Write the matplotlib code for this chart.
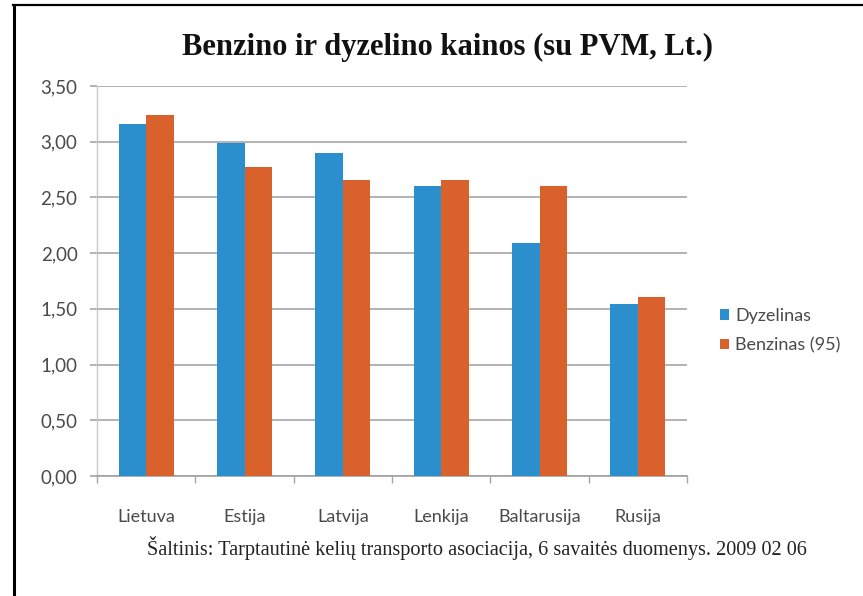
import numpy as np
import matplotlib
matplotlib.use("Agg")
import matplotlib.pyplot as plt
from matplotlib.lines import Line2D

# Kuro kainos pagal šalis (Lt su PVM)
salys = ["Lietuva", "Estija", "Latvija", "Lenkija", "Baltarusija", "Rusija"]
dyzelinas = [3.16, 2.99, 2.90, 2.60, 2.09, 1.54]
benzinas = [3.24, 2.77, 2.66, 2.66, 2.60, 1.61]
serijos = ["Dyzelinas", "Benzinas (95)"]
y_ticks = [0.0, 0.5, 1.0, 1.5, 2.0, 2.5, 3.0, 3.5]

pavadinimas = "Benzino ir dyzelino kainos (su PVM, Lt.)"
saltinis = "Šaltinis: Tarptautinė kelių transporto asociacija, 6 savaitės duomenys. 2009 02 06"

mėlyna = "#2b8fce"
oranžinė = "#d8612c"
pilka = "#a6a6a6"
teksto_spalva = "#4a4a4a"

W, H = 863, 596
fig = plt.figure(figsize=(W / 100, H / 100), dpi=100)
fig.patch.set_facecolor("white")

ax = fig.add_axes([97 / W, 1 - 476 / H, (687 - 97) / W, (476 - 86) / H])

x = np.arange(len(salys))
plotis = 0.28
ax.bar(x - plotis / 2, dyzelinas, plotis, color=mėlyna, label=serijos[0], zorder=3)
ax.bar(x + plotis / 2, benzinas, plotis, color=oranžinė, label=serijos[1], zorder=3)

ax.set_xlim(-0.5, len(salys) - 0.5)
ax.set_ylim(0, 3.5)
ax.set_yticks(y_ticks)
ax.set_yticklabels([f"{v:.2f}".replace(".", ",") for v in y_ticks])
ax.set_xticks(x)
ax.set_xticklabels(salys)
ax.set_xticks(np.arange(len(salys) + 1) - 0.5, minor=True)

ax.grid(axis="y", color=pilka, linewidth=1.2, zorder=0)
for s in ["top", "right"]:
    ax.spines[s].set_visible(False)
ax.spines["left"].set_color("#c8c8c8")
ax.spines["bottom"].set_color("#a0a0a0")
ax.spines["left"].set_linewidth(1.0)
ax.spines["bottom"].set_linewidth(1.2)

šriftas = "Lato"
ax.tick_params(axis="y", length=5, color=pilka, width=1.2, pad=9,
               labelsize=13.5, labelcolor=teksto_spalva)
ax.tick_params(axis="x", which="major", length=0, pad=24,
               labelsize=13, labelcolor=teksto_spalva)
ax.tick_params(axis="x", which="minor", length=5, color=pilka, width=1.0)
for lbl in ax.get_xticklabels() + ax.get_yticklabels():
    lbl.set_fontfamily(šriftas)

leg = ax.legend(loc="upper left", bbox_to_anchor=(720 / W, 1 - 308 / H),
                bbox_transform=fig.transFigure, frameon=False,
                prop={"family": šriftas, "size": 13}, handlelength=0.5,
                handleheight=0.5, handletextpad=0.35, labelspacing=0.75,
                borderpad=0, borderaxespad=0)
for t in leg.get_texts():
    t.set_color(teksto_spalva)

fig.text(448 / W, 1 - 47 / H, pavadinimas, ha="center", va="center",
         family="Liberation Serif", weight="bold", size=22, color="#111111")
fig.text(477 / W, 1 - 548 / H, saltinis, ha="center", va="center",
         family="Liberation Serif", size=14.6, color="#222222")

# rėmelis kairėje ir viršuje
fig.add_artist(Line2D([13.5 / W, 13.5 / W], [0, 1 - 4.5 / H], color="black",
                      linewidth=2.2, transform=fig.transFigure))
fig.add_artist(Line2D([12.5 / W, 1], [1 - 5 / H, 1 - 5 / H], color="black",
                      linewidth=1.6, transform=fig.transFigure))

fig.savefig("out.png", dpi=100, facecolor="white")
